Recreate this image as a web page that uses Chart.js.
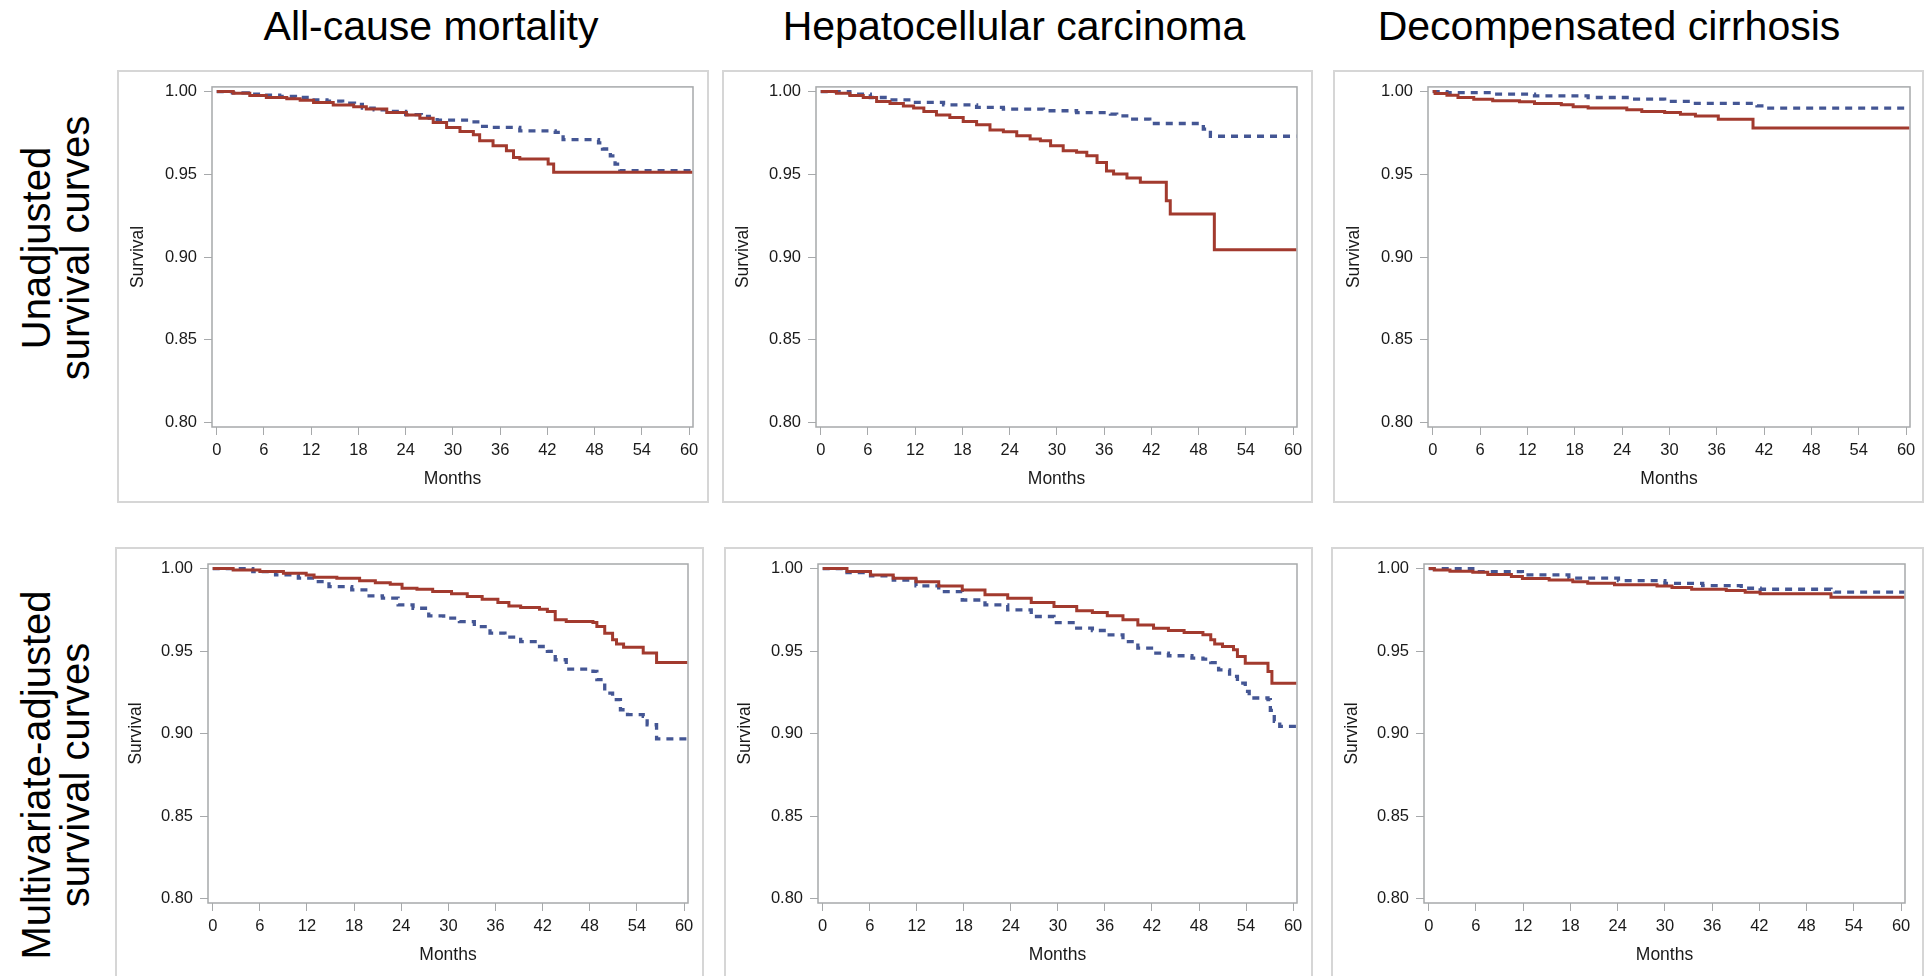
<!DOCTYPE html>
<html>
<head>
<meta charset="utf-8">
<title>Survival curves</title>
<script src="https://cdn.jsdelivr.net/npm/chart.js@4.4.0/dist/chart.umd.min.js"></script>
<style>
  html, body { margin: 0; padding: 0; background: #fff; }
  body { width: 1928px; height: 976px; position: relative; overflow: hidden; font-family: "Liberation Sans", Arial, sans-serif; color: #000; }
  .box { position: absolute; border: 2px solid #d6d6d6; box-sizing: border-box; }
  canvas { position: absolute; }
  .col-title { position: absolute; top: 6px; font-size: 41px; line-height: 41px; white-space: nowrap; transform: translateX(-50%); }
  .row-title { position: absolute; font-size: 40px; line-height: 39px; text-align: center; white-space: nowrap; transform: translate(-50%, -50%) rotate(-90deg); }
</style>
</head>
<body>
<script>
// axis ticks
const monthTicks = [0, 6, 12, 18, 24, 30, 36, 42, 48, 54, 60];
const survivalTicks = [0.80, 0.85, 0.90, 0.95, 1.00];

const columnTitles = ['All-cause mortality', 'Hepatocellular carcinoma', 'Decompensated cirrhosis'];
const rowTitles = [['Unadjusted', 'survival curves'], ['Multivariate-adjusted', 'survival curves']];

// Kaplan-Meier steps as [month, survival]; red = solid line, blue = dashed line
const unadjDeathRed = [[0,1.000],[2.1,0.9990],[4.2,0.9976],[6.3,0.9964],[8.9,0.9956],[10.6,0.9948],[12.3,0.9934],[14.8,0.9918],[17.4,0.9908],[19.0,0.9894],[21.6,0.9873],[24.1,0.9859],[25.8,0.9839],[27.5,0.9813],[29.2,0.9783],[30.9,0.9759],[32.6,0.9739],[33.4,0.9703],[35.1,0.9673],[36.8,0.9643],[37.7,0.9602],[38.5,0.9592],[42.1,0.9562],[42.8,0.9512],[60.4,0.9512]];
const unadjDeathBlue = [[0,1.000],[2,0.9992],[4,0.9984],[6,0.9978],[8,0.9970],[10,0.9964],[12,0.9950],[14,0.9942],[16,0.9930],[17.5,0.9922],[18.5,0.9900],[20,0.9890],[22,0.9880],[24,0.9860],[26,0.9850],[27,0.9840],[28,0.9827],[32,0.9817],[33.5,0.9790],[34.5,0.9783],[38.5,0.9763],[43,0.9753],[44,0.9709],[48.5,0.9690],[49,0.9653],[50,0.9612],[50.6,0.9562],[51.2,0.9522],[60.4,0.9522]];

const unadjHccRed = [[0,1.000],[2.0,0.9990],[3.7,0.9976],[5.4,0.9964],[7.1,0.9940],[8.8,0.9928],[10.5,0.9912],[11.8,0.9900],[13.1,0.9880],[14.7,0.9859],[16.4,0.9843],[18.1,0.9819],[19.8,0.9799],[21.5,0.9767],[23.2,0.9757],[24.9,0.9733],[26.6,0.9713],[27.9,0.9703],[29.2,0.9673],[30.8,0.9643],[32.5,0.9633],[33.8,0.9612],[35.1,0.9572],[36.3,0.9520],[37.2,0.9502],[38.9,0.9478],[40.6,0.9452],[43.9,0.9341],[44.4,0.9260],[50.0,0.9044],[60.4,0.9044]];
const unadjHccBlue = [[0,1.000],[3.7,0.9984],[6.3,0.9964],[8.8,0.9950],[11.4,0.9934],[15.6,0.9920],[19.8,0.9904],[23.2,0.9894],[28.3,0.9884],[32.5,0.9873],[36.8,0.9863],[37.6,0.9853],[39.3,0.9833],[41.8,0.9807],[48.6,0.9773],[49.5,0.9730],[60.4,0.9730]];

const unadjCirrRed = [[0,1.000],[0.3,0.9988],[1.8,0.9978],[3.2,0.9964],[5.2,0.9954],[7.6,0.9944],[11,0.9938],[12.9,0.9928],[16.3,0.9920],[17.8,0.9908],[19.7,0.9900],[24.6,0.9890],[26.5,0.9880],[29.4,0.9873],[31.4,0.9863],[33.3,0.9853],[36.2,0.9833],[40.6,0.9780],[60.4,0.9780]];
const unadjCirrBlue = [[0,1.000],[1.8,0.9994],[7.6,0.9984],[12.9,0.9974],[19.7,0.9964],[25.6,0.9954],[29.4,0.9940],[33.3,0.9928],[41.1,0.9914],[42,0.9900],[60.4,0.9900]];

const adjDeathRed = [[0,1.000],[2.6,0.9992],[6,0.9982],[9,0.9972],[11.9,0.9962],[12.9,0.9948],[15.8,0.9942],[18.7,0.9927],[20.7,0.9915],[22.6,0.9905],[24.1,0.9881],[26,0.9875],[28,0.9861],[30.4,0.9847],[32.4,0.9831],[34.3,0.9815],[36.3,0.9794],[37.7,0.9774],[39.2,0.9764],[41.6,0.9754],[42.6,0.9740],[43.6,0.9690],[45,0.9680],[48.4,0.9673],[48.9,0.9650],[49.9,0.9609],[50.9,0.9569],[51.4,0.9544],[52.3,0.9524],[54.8,0.9488],[56.5,0.9431],[60.4,0.9431]];
const adjDeathBlue = [[0,1.000],[5.1,0.9982],[8,0.9962],[10.9,0.9942],[12.9,0.9921],[14.8,0.9891],[17.7,0.9871],[19.7,0.9835],[21.6,0.9821],[23.6,0.9780],[25.5,0.9760],[27.5,0.9714],[29.4,0.9700],[31.4,0.9679],[33.3,0.9649],[35.3,0.9609],[37.2,0.9585],[39.2,0.9558],[41.6,0.9528],[42.6,0.9498],[43.6,0.9448],[45,0.9391],[48.4,0.9377],[48.9,0.9327],[49.9,0.9246],[50.9,0.9206],[51.9,0.9145],[52.8,0.9115],[54.8,0.9105],[55.3,0.9054],[56.5,0.8968],[60.4,0.8968]];

const adjHccRed = [[0,1.000],[3.1,0.9982],[6.1,0.9962],[9,0.9942],[11.9,0.9921],[14.8,0.9895],[17.8,0.9871],[20.7,0.9841],[23.6,0.9821],[26.6,0.9794],[29.5,0.9770],[32.4,0.9744],[34.4,0.9734],[36.3,0.9714],[38.3,0.9690],[40.2,0.9659],[42.2,0.9639],[44.1,0.9625],[46.1,0.9613],[48.5,0.9599],[49.5,0.9569],[50,0.9544],[51,0.9528],[52.4,0.9508],[52.9,0.9468],[53.9,0.9427],[56.8,0.9377],[57.3,0.9306],[60.4,0.9306]];
const adjHccBlue = [[0,1.000],[3.1,0.9976],[6.1,0.9956],[9,0.9931],[11.9,0.9895],[14.8,0.9861],[17.8,0.9810],[20.7,0.9780],[23.6,0.9750],[26.6,0.9710],[29.5,0.9673],[32.4,0.9639],[34.4,0.9625],[36.3,0.9599],[38.3,0.9558],[40.2,0.9518],[42.2,0.9488],[44.1,0.9472],[47.1,0.9458],[48.5,0.9452],[49.5,0.9431],[50.5,0.9387],[51.9,0.9347],[52.9,0.9306],[53.9,0.9256],[54.4,0.9216],[56.8,0.9206],[57.1,0.9141],[57.6,0.9075],[58.3,0.9044],[60.4,0.9044]];

const adjCirrRed = [[0,1.000],[0.7,0.9992],[2.7,0.9984],[5.6,0.9978],[7.5,0.9964],[10.5,0.9952],[11.9,0.9940],[15.3,0.9931],[18.3,0.9921],[20.2,0.9911],[23.6,0.9903],[29,0.9895],[30.9,0.9885],[33.4,0.9875],[37.8,0.9867],[40.2,0.9857],[42.1,0.9847],[51.1,0.9827],[60.4,0.9827]];
const adjCirrBlue = [[0,1.000],[5.6,0.9982],[11.9,0.9962],[17.8,0.9942],[24.1,0.9927],[30,0.9911],[34.8,0.9897],[39.7,0.9881],[42.1,0.9875],[51.1,0.9871],[51.6,0.9857],[60.4,0.9857]];

const RED = '#a23a2e';
const BLUE = '#445694';
const AXIS_GRAY = '#a7a9ab';

Chart.defaults.font.family = '"Liberation Sans", Arial, sans-serif';
Chart.defaults.color = '#1a1a1a';

// panel boxes and plot areas in page pixels: box [x0, y0, x1, y1], plot [left, top, right, bottom]
const panels = [
  { box: [117, 70, 709, 503],  plot: [212, 86, 693, 427],  red: unadjDeathRed, blue: unadjDeathBlue },
  { box: [722, 70, 1313, 503], plot: [816, 86, 1297, 427], red: unadjHccRed,   blue: unadjHccBlue },
  { box: [1333, 70, 1924, 503], plot: [1428, 86, 1910, 427], red: unadjCirrRed, blue: unadjCirrBlue },
  { box: [115, 547, 704, 1000], plot: [208, 564, 688, 903], red: adjDeathRed,  blue: adjDeathBlue },
  { box: [724, 547, 1313, 1000], plot: [818, 564, 1297, 903], red: adjHccRed,  blue: adjHccBlue },
  { box: [1331, 547, 1924, 1000], plot: [1424, 564, 1905, 903], red: adjCirrRed, blue: adjCirrBlue }
];
const X_AXIS_HEIGHT = 76;

// draws the grey frame around the plotting area
const plotFrame = {
  id: 'plotFrame',
  beforeDatasetsDraw(chart) {
    const { ctx, chartArea: a } = chart;
    ctx.save();
    ctx.strokeStyle = AXIS_GRAY;
    ctx.lineWidth = 1.5;
    ctx.strokeRect(a.left, a.top, a.right - a.left, a.bottom - a.top);
    ctx.restore();
  }
};

function toPoints(steps) {
  return steps.map(s => ({ x: s[0], y: s[1] }));
}

function addTitles() {
  const colCenters = [431, 1014, 1609];
  columnTitles.forEach((t, i) => {
    const d = document.createElement('div');
    d.className = 'col-title';
    d.style.left = colCenters[i] + 'px';
    d.textContent = t;
    document.body.appendChild(d);
  });
  const rowCenters = [248, 775];
  rowTitles.forEach((lines, i) => {
    const d = document.createElement('div');
    d.className = 'row-title';
    d.style.left = '56px';
    d.style.top = rowCenters[i] + 'px';
    d.innerHTML = lines.join('<br>');
    document.body.appendChild(d);
  });
}

function drawPanel(p) {
  const [x0, y0, x1, y1] = p.box;
  const [pl, pt, pr, pb] = p.plot;

  const box = document.createElement('div');
  box.className = 'box';
  box.style.left = x0 + 'px';
  box.style.top = y0 + 'px';
  box.style.width = (x1 - x0) + 'px';
  box.style.height = (y1 - y0) + 'px';
  document.body.appendChild(box);

  const canvas = document.createElement('canvas');
  const w = x1 - x0;
  const h = pb - y0 + X_AXIS_HEIGHT;
  canvas.width = w;
  canvas.height = h;
  canvas.style.left = x0 + 'px';
  canvas.style.top = y0 + 'px';
  canvas.style.width = w + 'px';
  canvas.style.height = h + 'px';
  document.body.appendChild(canvas);

  const yAxisWidth = pl - x0;

  new Chart(canvas.getContext('2d'), {
    type: 'line',
    data: {
      datasets: [
        {
          data: toPoints(p.red),
          borderColor: RED,
          borderWidth: 3,
          stepped: true,
          pointRadius: 0,
          fill: false
        },
        {
          data: toPoints(p.blue),
          borderColor: BLUE,
          borderWidth: 3.3,
          borderDash: [7, 6],
          stepped: true,
          pointRadius: 0,
          fill: false
        }
      ]
    },
    options: {
      responsive: false,
      animation: false,
      devicePixelRatio: 1,
      layout: { padding: { top: pt - y0, right: x1 - pr, left: 0, bottom: 0 } },
      plugins: { legend: { display: false }, tooltip: { enabled: false } },
      scales: {
        x: {
          type: 'linear',
          min: -0.6,
          max: 60.5,
          afterBuildTicks: axis => { axis.ticks = monthTicks.map(v => ({ value: v })); },
          afterFit: axis => { axis.height = X_AXIS_HEIGHT; },
          border: { display: false },
          grid: { drawOnChartArea: false, drawTicks: true, tickLength: 8, color: AXIS_GRAY, lineWidth: 1 },
          ticks: { font: { size: 16.5 }, padding: 6, maxRotation: 0, autoSkip: false, callback: v => String(v) },
          title: { display: true, text: 'Months', font: { size: 17.5 }, padding: { top: 0, bottom: 13 } }
        },
        y: {
          type: 'linear',
          min: 0.7974,
          max: 1.0028,
          afterBuildTicks: axis => { axis.ticks = survivalTicks.map(v => ({ value: v })); },
          afterFit: axis => { axis.width = yAxisWidth; },
          border: { display: false },
          grid: { drawOnChartArea: false, drawTicks: true, tickLength: 8, color: AXIS_GRAY, lineWidth: 1 },
          ticks: { font: { size: 16.5 }, padding: 7, callback: v => v.toFixed(2) },
          title: { display: true, text: 'Survival', font: { size: 17.5 }, padding: { top: 11, bottom: 0 } }
        }
      }
    },
    plugins: [plotFrame]
  });
}

addTitles();
panels.forEach(drawPanel);
</script>
</body>
</html>
